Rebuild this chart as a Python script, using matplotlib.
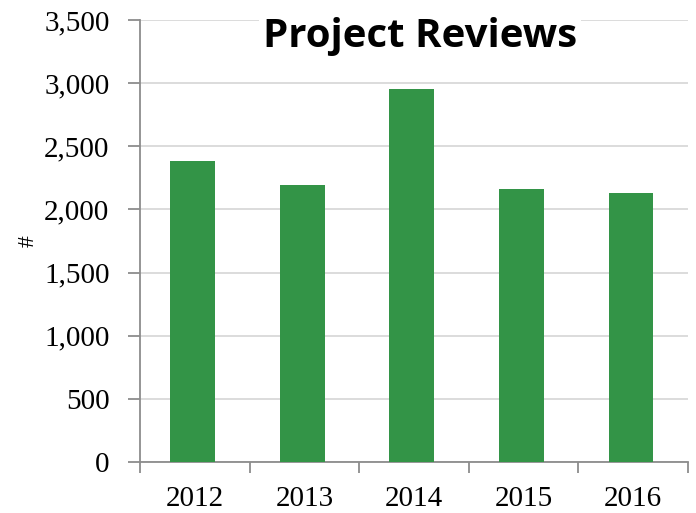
import matplotlib.pyplot as plt
import numpy as np

years = ["2012", "2013", "2014", "2015", "2016"]
reviews = [2380, 2190, 2950, 2160, 2130]

bar_color = "#339447"
grid_color = "#d9d9d9"
axis_color = "#8c8c8c"

fig = plt.figure(figsize=(6.96, 5.13), dpi=100)
ax = fig.add_axes([140 / 696, 1 - 462 / 513, 548 / 696, 442 / 513])

x = np.arange(len(years))
ax.bar(x - 0.02, reviews, width=0.41, color=bar_color, zorder=3)

ax.set_xlim(-0.5, len(years) - 0.5)
ax.set_ylim(0, 3500)
ax.set_yticks(np.arange(0, 3501, 500))
ax.set_yticklabels([f"{v:,}" for v in range(0, 3501, 500)],
                   family="Liberation Serif", fontsize=21)

# category labels centred, tick marks on the category boundaries
ax.set_xticks(x)
ax.set_xticklabels(years, family="Liberation Serif", fontsize=21)
ax.tick_params(axis="x", length=0, pad=17)
ax.set_xticks(np.arange(-0.5, len(years)), minor=True)
ax.tick_params(axis="x", which="minor", length=8, width=1.3, color=axis_color)
ax.tick_params(axis="y", length=9, width=1.3, color=axis_color, pad=13)

ax.yaxis.grid(True, color=grid_color, linewidth=1.3, zorder=0)
for side in ("top", "right"):
    ax.spines[side].set_visible(False)
for side in ("left", "bottom"):
    ax.spines[side].set_color(axis_color)
    ax.spines[side].set_linewidth(1.3)

ax.set_ylabel("#", family="Liberation Serif", fontsize=17, labelpad=4)

ax.text(0.511, 0.962, "Project Reviews", transform=ax.transAxes,
        ha="center", va="center", family="Open Sans", fontweight="bold",
        fontsize=29, zorder=5,
        bbox=dict(facecolor="white", edgecolor="none", pad=3))

fig.savefig("out.png", dpi=100)
